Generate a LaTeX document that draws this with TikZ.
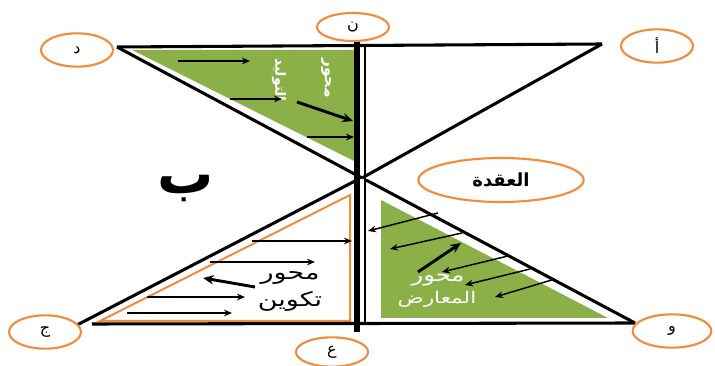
\documentclass[tikz,border=0pt]{standalone}
\usepackage{fontspec}
\newfontfamily\arabicfont[Script=Arabic]{DejaVu Sans}
\TeXXeTstate=1
\usetikzlibrary{arrows.meta,shapes.geometric}
\definecolor{ogreen}{RGB}{139,176,72}
\definecolor{oorange}{RGB}{240,140,60}
\begin{document}
\begin{tikzpicture}[x=0.75pt,y=-0.75pt,
  lbl/.style={draw=oorange,line width=1.6pt,ellipse,minimum width=54pt,minimum height=25pt,inner sep=0pt,font=\arabicfont\fontsize{12}{13}\selectfont},
  edge/.style={line width=2.3pt,black},
  thinarr/.style={line width=1.1pt,-{Stealth[length=6pt,width=5pt]}},
  thickarr/.style={line width=2.2pt,-{Stealth[length=8pt,width=7pt]}}]
\useasboundingbox (0,0) rectangle (715,366);
% vertices
\coordinate (D) at (117,47);
\coordinate (A) at (602,44);
\coordinate (X) at (362,178);
\coordinate (XL) at (357,180);
\coordinate (XR) at (366,180);
\coordinate (J) at (77,325);
\coordinate (B0) at (92,324);
\coordinate (W) at (635,323);
\coordinate (VT) at (357,42);
\coordinate (VB) at (357,332);
\coordinate (vt) at (365,45);
\coordinate (vb) at (365,324);
% fills
\fill[ogreen] (132,50) coordinate (g1) -- (354,50) coordinate (g2) -- (354,161) coordinate (g3) -- cycle;
\fill[ogreen] (381,200) coordinate (h1) -- (381,318) coordinate (h2) -- (608,318) coordinate (h3) -- cycle;
\draw[oorange,line width=1.5pt] (100,321) coordinate (o1) -- (350,195) coordinate (o2) -- (350,321) coordinate (o3) -- cycle;
% edges
\draw[edge] (D) -- (A);
\draw[edge] (D) -- (X);
\draw[edge] (A) -- (X);
\draw[edge] (J) -- (XL);
\draw[edge] (B0) -- (W);
\draw[edge] (XR) -- (W);
\draw[line width=4.5pt] (VT) -- (VB);
\draw[line width=1.8pt] (vt) -- (vb);
% ellipse labels
\node[lbl] (nD) at (77,50) {\beginR د\endR};
\node[lbl,minimum height=21pt] (nN) at (353,27) {\beginR ن\endR};
\node[lbl] (nA) at (657,46) {\beginR أ\endR};
\node[lbl] (nJ) at (45,332) {\beginR ج\endR};
\node[lbl,minimum height=22pt] (nE) at (332,352) {\beginR ع\endR};
\node[lbl,minimum width=59pt] (nW) at (672,331) {\beginR و\endR};
\node[lbl,minimum width=124pt,minimum height=33pt,font=\arabicfont\bfseries\fontsize{13.5}{15}\selectfont] (nK) at (501,180) {\beginR العقدة\endR};
\node[font=\arabicfont\bfseries\fontsize{42}{44}\selectfont,inner sep=0pt] (nB) at (186,189) {\beginR ب\endR};
% top green texts
\node[white,rotate=-90,font=\arabicfont\bfseries\fontsize{11.5}{12}\selectfont] (t1) at (326,78) {\beginR محور\endR};
\node[white,rotate=-90,font=\arabicfont\bfseries\fontsize{10.5}{12}\selectfont] (t2) at (279,80) {\beginR التوليد\endR};
% lower-left texts
\node[xscale=1.35,font=\arabicfont\fontsize{15}{16}\selectfont,inner sep=0pt] (t3) at (290,278) {\beginR محور\endR};
\node[xscale=1.35,font=\arabicfont\fontsize{15}{16}\selectfont,inner sep=0pt] (t4) at (290,301) {\beginR تكوين\endR};
% lower-right texts
\node[white,xscale=1.3,font=\arabicfont\fontsize{14}{15}\selectfont,inner sep=0pt] (t5) at (438,280) {\beginR محور\endR};
\node[white,xscale=1.35,font=\arabicfont\fontsize{12}{13}\selectfont,inner sep=0pt] (t6) at (437,299) {\beginR المعارض\endR};
% arrows top
\coordinate (p1) at (178,61); \coordinate (q1) at (250,61);
\coordinate (p2) at (230,99); \coordinate (q2) at (282,99);
\coordinate (p3) at (297,102); \coordinate (q3) at (353,121);
\coordinate (p4) at (307,137); \coordinate (q4) at (354,137);
\draw[thinarr] (p1) -- (q1);
\draw[thinarr] (p2) -- (q2);
\draw[thickarr] (p3) -- (q3);
\draw[thinarr] (p4) -- (q4);
% arrows lower-left
\coordinate (r1) at (252,241); \coordinate (s1) at (352,241);
\coordinate (r2) at (210,262); \coordinate (s2) at (315,262);
\coordinate (r3) at (255,287); \coordinate (s3) at (203,278);
\coordinate (r4) at (147,297); \coordinate (s4) at (245,297);
\coordinate (r5) at (127,313); \coordinate (s5) at (232,313);
\draw[thinarr] (r1) -- (s1);
\draw[thinarr] (r2) -- (s2);
\draw[thickarr] (r3) -- (s3);
\draw[thinarr] (r4) -- (s4);
\draw[thinarr] (r5) -- (s5);
% arrows lower-right
\coordinate (u1) at (438,213); \coordinate (v1) at (368,231);
\coordinate (u2) at (462,233); \coordinate (v2) at (390,249);
\coordinate (u3) at (418,272); \coordinate (v3) at (461,243);
\coordinate (u4) at (508,256); \coordinate (v4) at (442,272);
\coordinate (u5) at (530,269); \coordinate (v5) at (465,285);
\coordinate (u6) at (555,279); \coordinate (v6) at (495,297);
\draw[thinarr] (u1) -- (v1);
\draw[thinarr] (u2) -- (v2);
\draw[thickarr] (u3) -- (v3);
\draw[thinarr] (u4) -- (v4);
\draw[thinarr] (u5) -- (v5);
\draw[thinarr] (u6) -- (v6);
\end{tikzpicture}
\end{document}
